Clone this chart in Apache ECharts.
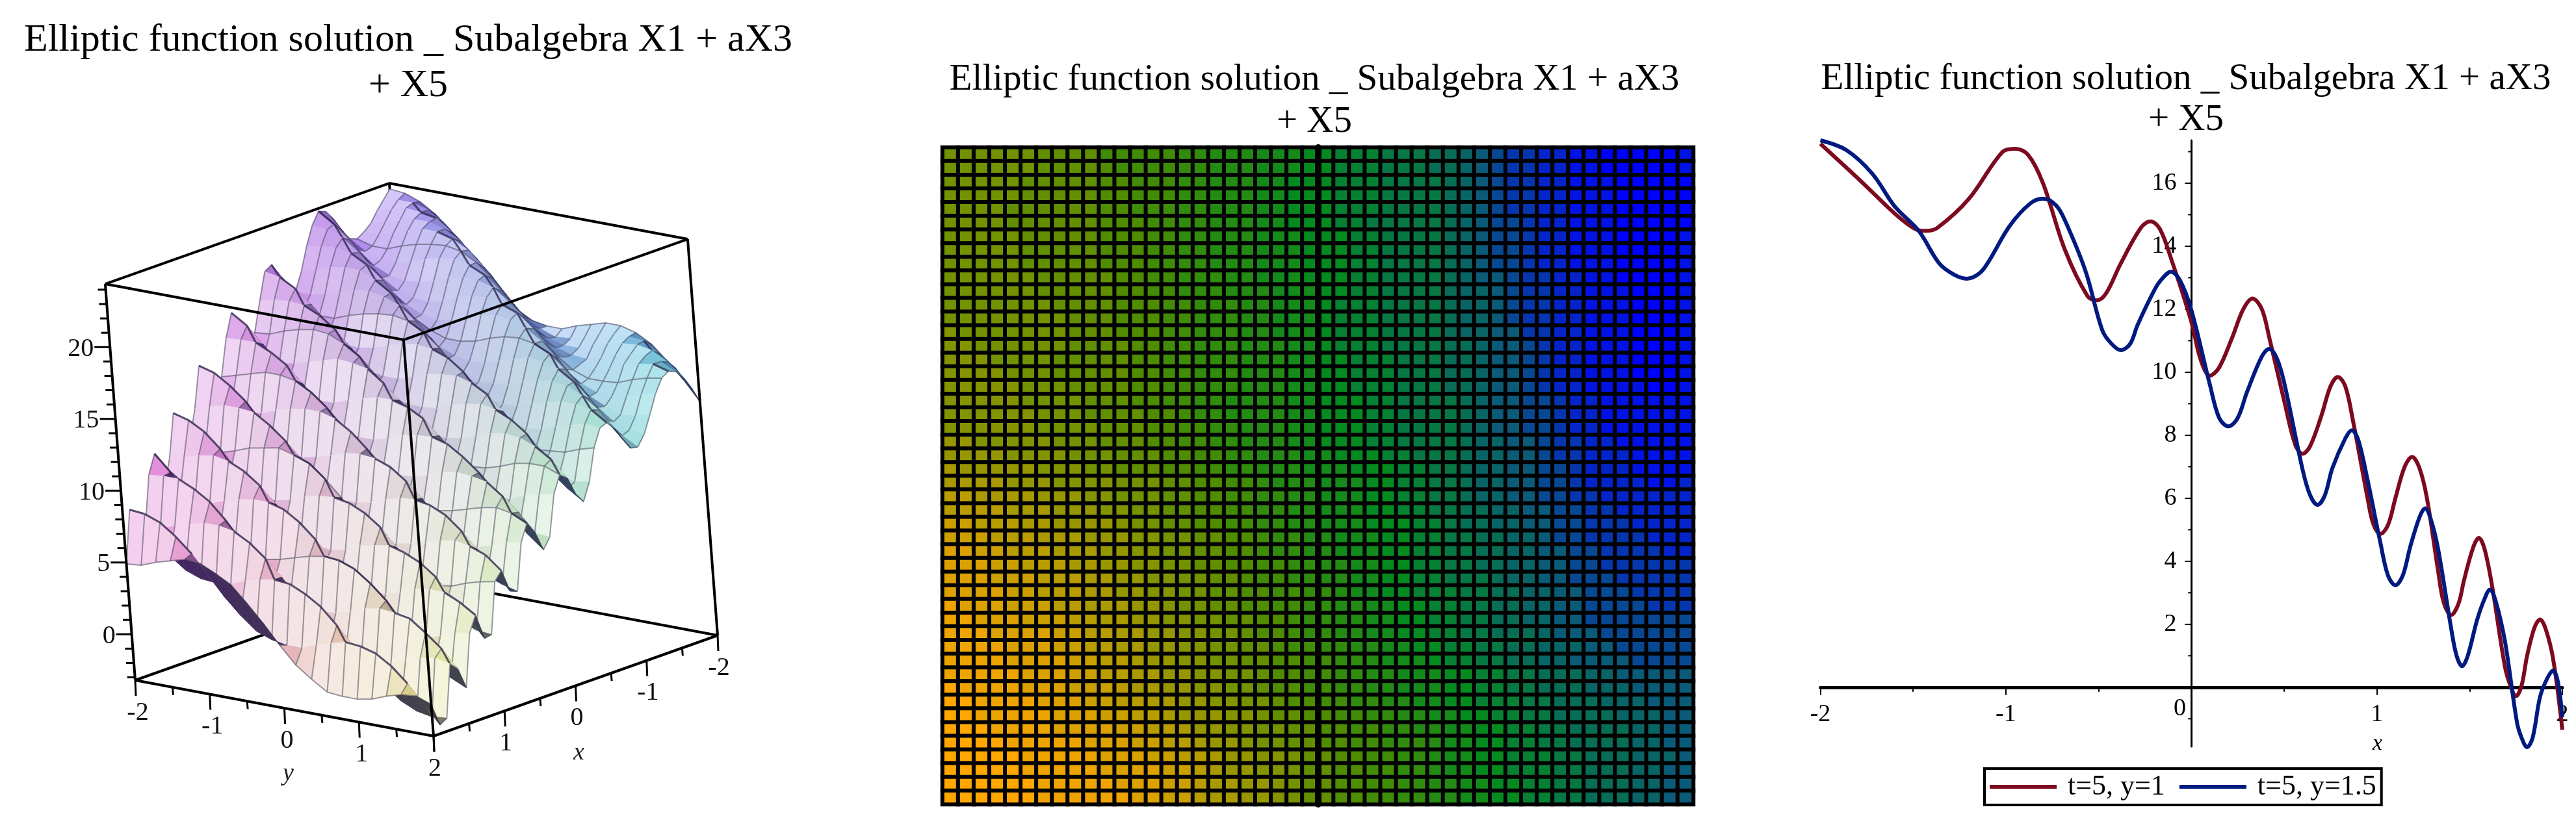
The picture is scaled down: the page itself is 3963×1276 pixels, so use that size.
<!DOCTYPE html>
<html>
<head>
<meta charset="utf-8">
<title>Elliptic function solution</title>
<script src="https://cdn.jsdelivr.net/npm/echarts@6/dist/echarts.min.js"></script>
<style>
html, body { margin: 0; background: #fff; }
#main { width: 3963px; height: 1276px; }
</style>
</head>
<body>
<div id="main"></div>
<script>
const titleText = "Elliptic function solution _ Subalgebra X1 + aX3\n+ X5";

// left panel: surface heights, one row per y, one column per x
const surfaceX = [-2,-1.9,-1.8,-1.7,-1.6,-1.5,-1.4,-1.3,-1.2,-1.1,-1,-0.9,-0.8,-0.7,-0.6,-0.5,-0.4,-0.3,-0.2,-0.1,0,0.1,0.2,0.3,0.4,0.5,0.6,0.7,0.8,0.9,1,1.1,1.2,1.3,1.4,1.5,1.6,1.7,1.8,1.9,2];
const surfaceY = [-2,-1.8,-1.6,-1.4,-1.2,-1,-0.8,-0.6,-0.4,-0.2,0,0.2,0.4,0.6,0.8,1,1.2,1.4,1.6,1.8,2];
const surfaceZ = [
  [24.0,23.4,22.8,22.1,21.7,21.4,21.6,22.3,23.3,24.0,24.2,23.4,22.1,20.5,19.3,19.1,20.4,21.7,21.4,19.5,17.5,16.7,18.3,19.4,17.8,15.3,14.1,16.1,16.6,13.8,11.7,13.4,14.0,11.0,9.2,11.7,10.4,7.0,7.8,8.5,4.9],
  [23.9,23.6,23.1,22.4,21.7,21.1,20.9,21.2,22.0,22.9,23.5,23.3,22.3,20.8,19.3,18.5,19.1,20.6,21.2,19.8,17.6,16.2,16.9,18.7,17.9,15.6,13.6,14.8,16.3,14.1,11.4,12.2,13.7,11.3,8.7,10.6,10.5,7.0,6.5,8.4,5.0],
  [23.5,23.6,23.4,22.7,22.0,21.1,20.5,20.3,20.8,21.6,22.6,22.9,22.4,21.2,19.5,18.2,18.0,19.5,20.6,19.9,18.0,15.9,15.8,17.6,17.9,15.9,13.4,13.6,15.6,14.4,11.3,10.9,13.1,11.6,8.5,9.3,10.5,7.4,5.5,8.0,5.4],
  [22.8,23.3,23.3,23.0,22.4,21.5,20.5,19.8,19.8,20.4,21.4,22.1,22.2,21.4,19.8,18.2,17.3,18.1,19.7,19.8,18.3,16.1,14.9,16.5,17.4,16.2,13.5,12.5,14.7,14.4,11.6,10.0,12.1,11.8,8.6,8.1,10.0,7.7,4.7,7.2,5.7],
  [21.8,22.6,23.1,23.0,22.7,21.8,20.7,19.6,19.1,19.3,20.2,21.1,21.6,21.4,20.2,18.6,16.8,17.0,18.6,19.3,18.5,16.4,14.4,15.1,16.7,16.2,13.9,11.8,13.5,14.3,12.0,9.3,11.0,11.6,9.0,7.0,9.3,8.0,4.3,6.2,6.0],
  [20.6,21.6,22.3,22.7,22.7,22.0,21.1,19.7,18.8,18.5,18.9,19.8,20.7,20.9,20.3,18.9,16.7,16.1,17.3,18.5,18.4,16.7,14.1,14.0,15.6,16.0,14.2,11.3,12.2,13.6,12.2,8.9,9.7,11.1,9.3,6.3,8.2,8.0,4.2,4.9,5.9],
  [19.2,20.4,21.3,22.1,22.4,22.1,21.4,20.0,18.7,18.0,17.9,18.5,19.5,20.2,20.1,19.1,16.9,15.5,16.0,17.4,17.9,17.0,14.1,13.1,14.3,15.4,14.4,11.2,11.0,12.7,12.4,8.9,8.4,10.3,9.5,5.8,6.9,7.8,4.3,3.6,5.4],
  [18.1,19.2,20.2,21.1,21.8,21.9,21.5,20.4,19.0,17.8,17.3,17.5,18.3,19.2,19.7,19.2,17.2,15.3,15.0,16.1,17.2,16.9,14.5,12.5,13.1,14.5,14.4,11.4,10.0,11.6,12.1,9.1,7.5,9.2,9.5,5.7,5.7,7.2,4.7,2.5,4.8],
  [17.2,17.9,18.9,20.0,20.8,21.3,21.3,20.6,19.4,18.0,16.9,16.5,17.0,18.0,18.8,19.0,17.6,15.3,14.3,14.9,16.1,16.7,14.8,12.3,12.0,13.4,14.1,11.7,9.4,10.3,11.7,9.6,6.8,8.0,9.2,5.9,4.6,6.3,5.0,1.6,3.7],
  [16.6,17.0,17.7,18.7,19.6,20.4,20.8,20.6,19.7,18.3,16.9,16.1,16.0,16.7,17.8,18.4,17.7,15.6,13.9,13.8,14.9,15.9,15.1,12.3,11.1,12.1,13.4,12.1,9.0,9.1,10.8,9.8,6.5,6.7,8.5,6.2,3.7,5.2,5.2,1.2,2.5],
  [16.4,16.4,16.7,17.5,18.4,19.2,19.9,20.3,19.8,18.7,17.1,15.9,15.3,15.5,16.5,17.5,17.6,16.0,13.9,13.0,13.6,14.9,15.1,12.6,10.6,10.9,12.4,12.2,9.0,8.0,9.7,9.9,6.4,5.6,7.5,6.5,3.2,3.9,5.1,1.0,1.2],
  [16.4,16.0,16.1,16.5,17.1,18.0,18.8,19.5,19.5,18.9,17.5,15.9,14.8,14.6,15.2,16.3,17.2,16.2,14.0,12.5,12.5,13.8,14.8,13.0,10.4,9.8,11.2,12.1,9.2,7.3,8.4,9.7,6.6,4.8,6.3,6.7,3.0,2.6,4.6,1.0,0.0],
  [16.8,16.1,15.8,15.8,16.2,16.7,17.5,18.6,19.1,18.8,17.8,16.3,14.9,14.1,14.2,15.1,16.4,16.3,14.4,12.3,11.6,12.5,14.2,13.2,10.5,9.1,10.0,11.7,9.6,6.9,7.1,9.2,7.1,4.3,5.1,6.6,3.1,1.7,3.9,1.4,-0.8],
  [17.1,16.4,15.8,15.5,15.5,15.8,16.3,17.4,18.2,18.4,17.9,16.6,15.0,13.8,13.3,13.8,15.4,16.0,14.7,12.5,11.1,11.3,13.2,13.3,10.8,8.7,8.7,10.9,9.9,6.9,6.1,8.4,7.3,4.2,3.8,6.2,3.4,0.9,2.8,1.7,-1.5],
  [17.4,16.8,16.2,15.4,15.2,15.0,15.2,16.2,17.1,17.7,17.7,16.9,15.4,13.9,12.9,12.9,14.1,15.4,14.9,12.8,10.9,10.3,12.1,13.0,11.2,8.7,7.8,9.9,10.0,7.1,5.3,7.2,7.5,4.3,2.9,5.4,3.8,0.5,1.6,2.0,-1.6],
  [17.4,17.0,16.5,15.7,15.1,14.6,14.4,14.8,15.8,16.7,17.2,16.8,15.7,14.2,12.7,12.1,12.9,14.4,14.7,13.2,11.0,9.7,10.8,12.3,11.4,8.9,7.2,8.6,9.8,7.4,4.9,5.9,7.2,4.6,2.3,4.4,4.0,0.5,0.3,1.9,-1.6],
  [17.1,17.0,16.7,16.1,15.3,14.6,14.0,13.9,14.5,15.5,16.3,16.5,15.8,14.5,12.8,11.6,11.8,13.2,14.2,13.4,11.3,9.4,9.5,11.4,11.3,9.2,6.8,7.3,9.3,7.7,4.8,4.7,6.7,5.0,1.9,3.1,3.9,0.6,-0.9,1.6,-1.4],
  [16.5,16.9,16.8,16.3,15.8,14.7,13.9,13.4,13.5,14.1,15.2,15.8,15.7,14.8,13.2,11.7,10.8,12.0,13.4,13.3,11.7,9.4,8.6,10.2,11.1,9.5,6.9,6.3,8.4,7.9,4.9,3.6,5.9,5.2,2.0,1.8,3.7,1.0,-1.7,0.9,-1.0],
  [15.5,16.2,16.6,16.4,16.0,15.1,14.1,13.0,12.7,13.0,13.9,14.8,15.2,14.8,13.5,11.8,10.4,10.7,12.3,12.9,11.9,9.8,7.9,9.0,10.3,9.7,7.2,5.3,7.3,7.7,5.3,2.9,4.7,5.2,2.3,0.8,2.9,1.3,-2.2,-0.1,-0.7],
  [14.4,15.4,16.0,16.2,16.2,15.4,14.4,13.1,12.3,12.1,12.7,13.6,14.4,14.6,13.8,12.2,10.1,9.8,11.1,12.2,11.9,10.1,7.6,7.7,9.4,9.5,7.6,4.9,6.0,7.3,5.6,2.4,3.5,4.7,2.7,-0.2,2.0,1.5,-2.4,-1.3,-0.6],
  [13.1,14.2,15.1,15.7,15.9,15.6,14.7,13.4,12.2,11.5,11.6,12.4,13.3,13.9,13.7,12.5,10.3,9.1,9.8,11.1,11.5,10.3,7.5,6.8,8.2,9.0,7.8,4.6,4.8,6.4,5.8,2.3,2.2,4.0,2.9,-0.7,0.8,1.3,-2.3,-2.6,-1.0]
];
const xyTicks = [-2,-1.5,-1,-0.5,0,0.5,1,1.5,2];
const zTicks = [-3,-2,-1,0,1,2,3,4,5,6,7,8,9,10,11,12,13,14,15,16,17,18,19,20,21,22,23,24];

// middle panel: colour level of each cell, a=0 ... z=25, top row first
const heatRows = [
  "iiiiiijjjj lllllmmnnn oooppqqqrr rsstuv wwxxyy zzzzzy",
  "iiiiiijjjj kllllmmnnn oooppqqqrr rsstuv wwxxyy zzzzzy",
  "iiiiijjjjj kklllmmnnn oopppqqqrr rrstuv wwxxyy yzzzzz",
  "iiiiijjjjj kklllmmnnn oopppqqqrr rrstuv wwxxyy yzzzzz",
  "iiiijjjjjj kklllmmnnn oopppqqqrr rrstuv wwxxyy yzzzzz",
  "iiiijjjjjj kkkllmmnnn oopppqqrrr rrstuv vwxxyy yzzzzz",
  "iiiiijjjjj kkkllmmnnn ooopppqqrr rrstuv vwxxyy yzzzzy",
  "iiiiijjjjj kkkllmmnnn ooopppqqrr rrstuv vwxxyy yzzzzy",
  "iiiiijjjjj kkkllmmnnn ooopppqqrr rrstuv vwxxyy yzzzzy",
  "iiiiiijjjj jkkllmmmnn ooopppqqrr rrstuu vwwxxy yzzzzy",
  "iiiiiijjjj jkkllmmmnn noooppqqrr rrsttu vwwxxy yyzzzy",
  "iiiiiiijjj jkkkllmmmn nooopqqqrr rrsttu vwwxxy yyzzzy",
  "iiiiiiiijj jkkkllmmmn nooopqqqrr rrsttu vwwxxy yyzzzy",
  "hiiiiiiijj jkkkllmmmn nooopqqqrr rrsttu uwwxxy yyzzzy",
  "hhiiiiiijj jjkkllmmmn nnoopqqqrr rrsstu uvwxxy yyzzzy",
  "hhhiiiijjj jjkkllmmmn nnooppqqqr rrsstu uvwxxy yyzzzy",
  "hhhhiiijjj jjkkllmmmn nnooppqqqr rrsstu uvwxxy yyzzzy",
  "hhhhhiiijj jjkkllmmmn nnooppqqqr rrsstu uvwxxy yyyzzy",
  "hhhhhiiiij jjkkllmmnn nnoopppqqr rrrstu uvvwxx yyyyyy",
  "hhhhhhiiij jjjkklmmnn nnoopppqqr rrrstu uvvwxx yyyyyy",
  "hhhhhhiiii jjjkkllmmn nnoopppqqr rrrstu uvvwxx yyyyyy",
  "gghhhhhiii jjjkkllmmn nnoopppqqr rrrstt uuvwwx xyyyyy",
  "gggghhhhii ijjjkkllmm nnnoopppqq rrrstt uuvwwx xxyyyy",
  "fggggghhhi ijjjkkllmm nnnooopppq qrrstt uuvvwx xxyyyy",
  "ffffggghhh hiiijjkkll mnnnoooppq qrrstt uuvvwx xxxyyx",
  "eeffffgggh hiiijjkkll mmnnoooppq qrrstt uuvvww xxxxxx",
  "eeeefffggg hhiijjkkll mmnnoooppq qrrsst tuuvvw wxxxxx",
  "ddeeeffggg ghiijjkkll mmnnoooppp qqrsst tuuvvw wwxxxx",
  "dddeeefffg gghhiijjkk lmmnnooopp qqrrss ttuvvw wwwxxx",
  "ccddeeefff gghhiijjkk lmmnnooopp qqrrss ttuuvv wwwwxx",
  "cccddeeeff gghhiijjkk llmmnnoopp qqrrss ttuuvv wwwwww",
  "cccdddeeef fgghhiijjk llmmnnoopp qqrrrs ttuuvv vwwwww",
  "ccccddeeef fgghhiijjk kllmmnoopp qqqrrs sttuuv vvwwww",
  "bcccdddeef ffgghiijjk kllmmnnoop pqqrrs sttuuv vvvwww",
  "bbcccdddee ffgghhiijj kklmmnnoop pqqrrs sttuuv vvvvvv",
  "bbbccccdde effgghhiij kklmmnnoop pqqrrs sstuuu vvvvvv",
  "bbbbcccdde effgghhiij jkllmmnnoo ppqqrr sstttu uvvvvv",
  "bbbbccccdd eefgghhiij jkkllmmnoo opqqrr ssttuu uuvvvv",
  "bbbbbcccdd eeffgghhii jkkllmmnno ooppqq rrssst tuuuuu",
  "abbbbcccdd deffgghhii jkkllmmnno ooppqq rrssst ttuuuu",
  "aabbbbcccd deeffgghhi ijkkllmmnn ooppqq qrrsss tttuuu",
  "aabbbbbccc ddeefggghh ijjkkllmmn nooppq qrrsss stttuu",
  "aaabbbbccc cddeefgghh iijjkkllmm nnoopp qqrrss ssttuu",
  "aaaabbbbbc ccddeefggh iijjkkllmm mnoopp qqrrss ssttuu",
  "aaaaabbbbb cccddeefgg hhijjkkllm mnoopp qqqrrs sstttu",
  "aaaaabbbbb ccccddefgg hhijjkkllm mnoopp qqqrrs ssttuu",
  "aaaaaabbbb bcccddeffg ghijjkkllm mnnoop pqqrrs ssttuu",
  "aaaaaabbbb bbccddeffg ghijjkkllm mnnoop pqqrrs ssttuu"
];
const heatColors = ["#ffa600", "#a89a00", "#4f8c00", "#058a20", "#0a5a78", "#0000ff"];

// right panel: the two curves
const redX = [-2,-1.77,-1.6,-1.49,-1.43,-1.37,-1.2,-1.02,-0.95,-0.88,-0.8,-0.68,-0.56,-0.51,-0.46,-0.38,-0.27,-0.22,-0.17,-0.11,0,0.05,0.1,0.15,0.22,0.28,0.33,0.38,0.42,0.5,0.56,0.6,0.64,0.7,0.75,0.79,0.83,0.87,0.95,0.98,1.02,1.06,1.1,1.15,1.19,1.23,1.27,1.33,1.36,1.4,1.44,1.47,1.52,1.55,1.58,1.62,1.69,1.72,1.75,1.78,1.81,1.85,1.88,1.91,1.95,2];
const redY = [17.25,16,15.04,14.55,14.49,14.58,15.5,16.98,17.09,16.9,16,13.86,12.42,12.28,12.5,13.46,14.6,14.79,14.55,13.62,11.6,10.4,9.89,10.15,11.1,12,12.34,12,11.1,9.1,7.7,7.41,7.65,8.6,9.55,9.85,9.55,8.5,6,5.2,4.87,5.15,6,7,7.31,6.95,6,3.7,2.7,2.29,2.65,3.4,4.45,4.74,4.4,3.26,0.67,0.05,-0.28,0.05,1,1.9,2.15,1.85,0.91,-1.35];
const blueX = [-2,-1.86,-1.72,-1.6,-1.47,-1.36,-1.28,-1.21,-1.14,-1.09,-0.98,-0.87,-0.8,-0.73,-0.68,-0.57,-0.48,-0.43,-0.38,-0.33,-0.29,-0.2,-0.16,-0.11,-0.06,0,0.1,0.15,0.2,0.25,0.3,0.38,0.42,0.46,0.5,0.6,0.64,0.68,0.72,0.76,0.83,0.865,0.9,0.95,1.02,1.06,1.1,1.14,1.18,1.23,1.26,1.29,1.33,1.4,1.43,1.46,1.49,1.54,1.58,1.61,1.64,1.69,1.755,1.78,1.81,1.84,1.88,1.92,1.95,1.975,2];
const blueY = [17.36,17.05,16.3,15.27,14.49,13.46,13.1,12.97,13.15,13.54,14.64,15.35,15.51,15.3,14.8,13.2,11.33,10.9,10.7,10.9,11.5,12.6,12.95,13.19,12.9,11.97,9.6,8.55,8.28,8.55,9.37,10.5,10.74,10.45,9.68,6.9,6.1,5.79,6.1,6.95,7.9,8.16,7.85,6.58,4.56,3.55,3.24,3.55,4.46,5.4,5.68,5.35,4.4,1.89,1,0.67,1,2.13,2.8,3.1,2.75,1.48,-1.1,-1.6,-1.9,-1.6,-0.3,0.3,0.53,0.2,-0.95];
const redName = "t=5, y=1";
const blueName = "t=5, y=1.5";
const yMajorTicks = [0,2,4,6,8,10,12,14,16];
const yMinorTicks = [-1,1,3,5,7,9,11,13,15,17];
const yLabelValues = [2,4,6,8,10,12,14,16];
const xLabelValues = [-2,-1,1,2];

const SERIF = "Liberation Serif";
const Z_MIN = -3.2, Z_MAX = 24.4;

// box view: orthographic, the nearest bottom corner is x=2, y=2
function project(x, y, z) {
    return [
        667 + (2 - x) * 109.25 - (2 - y) * 114.75 - (z - Z_MIN) * 1.67,
        1133 - (2 - x) * 38.75 - (2 - y) * 21.5 - (z - Z_MIN) * 22.1
    ];
}

function mix(a, b, t) {
    return [a[0] + (b[0] - a[0]) * t, a[1] + (b[1] - a[1]) * t, a[2] + (b[2] - a[2]) * t];
}

function quadArea(a, b, c, d) {
    return (c[0] - a[0]) * (d[1] - b[1]) - (c[1] - a[1]) * (d[0] - b[0]);
}

// pink/yellow at the front, lavender/cyan at the back. Faces seen at a grazing
// angle go dark, faces turned to the viewer go pale.
function quadColor(i, j) {
    const x0 = surfaceX[i], x1 = surfaceX[i + 1], y0 = surfaceY[j], y1 = surfaceY[j + 1];
    const s = (x0 + 2) / 4, t = (y0 + 2) / 4;
    const back = mix([176, 150, 244], [120, 218, 236], t);
    const front = mix([226, 110, 206], [232, 232, 140], t);
    const base = mix(back, front, s);
    const area = quadArea(
        project(x0, y0, surfaceZ[j][i]), project(x1, y0, surfaceZ[j][i + 1]),
        project(x1, y1, surfaceZ[j + 1][i + 1]), project(x0, y1, surfaceZ[j + 1][i]));
    const flat = quadArea(project(x0, y0, 0), project(x1, y0, 0), project(x1, y1, 0), project(x0, y1, 0));
    const r = area / flat;
    const dark = [base[0] * 0.3, base[1] * 0.3, base[2] * 0.5];
    let c;
    if (r < 1) {
        c = mix(base, dark, Math.min(1, 0.45 + (1 - r) * 0.55));
    } else if (r < 2) {
        c = mix(base, dark, (2 - r) * 0.45);
    } else {
        let w = 0.12 + 0.55 * Math.min(1, Math.max(0, (r - 3.5) / 6));
        if (x0 < -1) w += (-1 - x0) * 0.35;
        c = mix(base, [255, 255, 255], Math.min(0.85, w));
    }
    return "rgb(" + c.map(Math.round).join(",") + ")";
}

const quadData = [];
for (let i = 0; i < surfaceX.length - 1; i++) {
    for (let j = 0; j < surfaceY.length - 1; j++) {
        quadData.push([i, j]);
    }
}

function isCrest(i, j) {
    const row = surfaceZ[j];
    return i > 0 && i < row.length - 1 && row[i] >= row[i - 1] && row[i] > row[i + 1];
}

function renderQuad(params, api) {
    const i = api.value(0), j = api.value(1);
    const pt = (a, b) => api.coord(project(surfaceX[a], surfaceY[b], surfaceZ[b][a]));
    const p00 = pt(i, j), p10 = pt(i + 1, j), p11 = pt(i + 1, j + 1), p01 = pt(i, j + 1);
    const fill = quadColor(i, j);
    const meshStyle = { stroke: "rgba(60,60,80,0.5)", lineWidth: 2 };
    const children = [{
        type: "polygon",
        shape: { points: [p00, p10, p11, p01] },
        style: { fill: fill, stroke: fill, lineWidth: 1 }
    }];
    const seg = (a, b, style) => children.push({
        type: "line",
        shape: { x1: a[0], y1: a[1], x2: b[0], y2: b[1] },
        style: style || meshStyle
    });
    seg(p00, p10);
    if (j === surfaceY.length - 2) seg(p01, p11);
    if (i % 5 === 0) seg(p00, p01);
    if (i === surfaceX.length - 2) seg(p10, p11);
    // ridge line, joined to the same ridge on the next row
    if (isCrest(i, j)) {
        const crestStyle = { stroke: "rgba(40,30,70,0.75)", lineWidth: 3 };
        [0, 1, -1].some(k => {
            if (isCrest(i + k, j + 1)) {
                seg(p00, pt(i + k, j + 1), crestStyle);
                return true;
            }
            return false;
        });
    }
    return { type: "group", children: children };
}

// box edges as pairs of corners
const lo = -2, hi = 2;
const backEdges = [
    [[hi, lo, Z_MIN], [lo, lo, Z_MIN]], [[lo, lo, Z_MIN], [lo, hi, Z_MIN]], [[lo, lo, Z_MIN], [lo, lo, Z_MAX]],
    [[hi, lo, Z_MAX], [lo, lo, Z_MAX]], [[lo, lo, Z_MAX], [lo, hi, Z_MAX]]
];
const frontEdges = [
    [[hi, lo, Z_MIN], [hi, hi, Z_MIN]], [[hi, hi, Z_MIN], [lo, hi, Z_MIN]],
    [[hi, lo, Z_MIN], [hi, lo, Z_MAX]], [[hi, hi, Z_MIN], [hi, hi, Z_MAX]], [[lo, hi, Z_MIN], [lo, hi, Z_MAX]],
    [[hi, lo, Z_MAX], [hi, hi, Z_MAX]], [[hi, hi, Z_MAX], [lo, hi, Z_MAX]]
];

function edgeSeries(edges) {
    return {
        type: "custom",
        xAxisIndex: 0,
        yAxisIndex: 0,
        silent: true,
        clip: false,
        data: edges.map((e, k) => [k]),
        renderItem: function (params, api) {
            const e = edges[api.value(0)];
            const a = api.coord(project(e[0][0], e[0][1], e[0][2]));
            const b = api.coord(project(e[1][0], e[1][1], e[1][2]));
            return {
                type: "line",
                shape: { x1: a[0], y1: a[1], x2: b[0], y2: b[1] },
                style: { stroke: "#000", lineWidth: 4 }
            };
        }
    };
}

// ticks and tick labels of the box
const boxTicks = [];
xyTicks.forEach(v => {
    const major = Number.isInteger(v);
    boxTicks.push({ at: [hi, v, Z_MIN], dx: 1, dy: major ? 24 : 12, label: major && v !== 2 ? String(v) : "", lx: 4, ly: 50 });
    boxTicks.push({ at: [v, hi, Z_MIN], dx: 1, dy: major ? 24 : 12, label: major ? String(v) : "", lx: 2, ly: 50 });
});
zTicks.forEach(v => {
    const major = v % 5 === 0;
    boxTicks.push({ at: [hi, lo, v], dx: major ? -24 : -12, dy: 0, label: major ? String(v) : "", lx: -25, ly: 3, right: true });
});

const axes3d = {
    type: "custom",
    xAxisIndex: 0,
    yAxisIndex: 0,
    silent: true,
    clip: false,
    data: boxTicks.map((t, k) => [k]),
    renderItem: function (params, api) {
        const t = boxTicks[api.value(0)];
        const p = api.coord(project(t.at[0], t.at[1], t.at[2]));
        const children = [{
            type: "line",
            shape: { x1: p[0], y1: p[1], x2: p[0] + t.dx, y2: p[1] + t.dy },
            style: { stroke: "#000", lineWidth: 3 }
        }];
        if (t.label) {
            children.push({
                type: "text",
                style: {
                    text: t.label,
                    x: p[0] + t.lx,
                    y: p[1] + t.ly,
                    fill: "#111",
                    font: "40px '" + SERIF + "'",
                    align: t.right ? "right" : "center",
                    verticalAlign: "middle"
                }
            });
        }
        return { type: "group", children: children };
    }
};

// heatmap cells from the letter table
const heatClean = heatRows.map(r => r.replace(/ /g, ""));
const heatCols = [], heatCats = [], heatData = [];
for (let c = 0; c < 48; c++) heatCols.push(c);
heatClean.forEach((row, r) => {
    heatCats.push(r);
    for (let c = 0; c < row.length; c++) {
        heatData.push([c, r, row.charCodeAt(c) - 97]);
    }
});

function zipXY(xs, ys) {
    return xs.map((x, i) => [x, ys[i]]);
}

const chart = echarts.init(document.getElementById("main"), null, { renderer: "canvas" });
const titleStyle = { fontFamily: SERIF, fontWeight: "normal", color: "#000", fontSize: 60 };

chart.setOption({
    backgroundColor: "#fff",
    animation: false,
    title: [
        { text: titleText, left: 623, top: 22, textAlign: "center", textStyle: Object.assign({}, titleStyle, { lineHeight: 70 }) },
        { text: titleText, left: 2017, top: 86, textAlign: "center", textStyle: Object.assign({}, titleStyle, { fontSize: 57, lineHeight: 65 }) },
        { text: titleText, left: 3358, top: 86, textAlign: "center", textStyle: Object.assign({}, titleStyle, { fontSize: 57, lineHeight: 63 }) }
    ],
    grid: [
        { left: 0, top: 0, width: 1300, height: 1276 },
        { left: 1450, top: 227, width: 1155, height: 1011, show: true, backgroundColor: "#000", borderColor: "#000", borderWidth: 6 },
        { left: 1450, top: 227, width: 1155, height: 1011 },
        { left: 2800.5, top: 216, width: 1141.5, height: 933 }
    ],
    xAxis: [
        { gridIndex: 0, type: "value", min: 0, max: 1300, show: false },
        { gridIndex: 1, type: "category", data: heatCols, show: false },
        { gridIndex: 2, type: "value", min: -2, max: 2, show: false },
        {
            gridIndex: 3, type: "value", min: -2, max: 2, interval: 1,
            splitLine: { show: false },
            axisLine: { onZero: true, lineStyle: { color: "#000", width: 5 } },
            axisTick: { length: 12, lineStyle: { color: "#000", width: 2 } },
            minorTick: { show: true, splitNumber: 2, length: 7, lineStyle: { color: "#000", width: 2 } },
            // labels stay at the grid edge, so they are pulled back up to the axis
            axisLabel: { customValues: xLabelValues, color: "#000", fontFamily: SERIF, fontSize: 38, margin: -68 }
        }
    ],
    yAxis: [
        { gridIndex: 0, type: "value", min: 0, max: 1276, inverse: true, show: false },
        { gridIndex: 1, type: "category", data: heatCats, inverse: true, show: false },
        {
            gridIndex: 2, type: "value", min: -2, max: 2, z: 5,
            splitLine: { show: false },
            axisLine: { onZero: true, lineStyle: { color: "#000", width: 10 } },
            axisTick: { show: false },
            axisLabel: { show: false }
        },
        {
            gridIndex: 3, type: "value", min: -1.88, max: 17.36,
            splitLine: { show: false },
            axisLine: { onZero: true, lineStyle: { color: "#000", width: 3 } },
            axisTick: { customValues: yMajorTicks, length: 10, lineStyle: { color: "#000", width: 2 } },
            axisLabel: { customValues: yLabelValues, color: "#000", fontFamily: SERIF, fontSize: 38, margin: -548 }
        }
    ],
    visualMap: {
        show: false,
        seriesIndex: 4,
        dimension: 2,
        min: 0,
        max: 25,
        inRange: { color: heatColors }
    },
    legend: {
        left: 3053,
        top: 1183,
        data: [
            { name: redName, icon: "rect" },
            { name: blueName, icon: "rect" }
        ],
        orient: "horizontal",
        itemWidth: 103,
        itemHeight: 6,
        itemGap: 22,
        padding: [4, 8, 4, 8],
        borderColor: "#000",
        borderWidth: 4,
        selectedMode: false,
        textStyle: { color: "#000", fontFamily: SERIF, fontSize: 44, lineHeight: 48, padding: [0, 0, 0, 12] }
    },
    graphic: [
        { type: "text", left: 3344, top: 1072, style: { text: "0", fill: "#000", font: "38px '" + SERIF + "'" } },
        { type: "text", left: 3650, top: 1128, style: { text: "x", fill: "#000", font: "italic 34px '" + SERIF + "'" } },
        { type: "text", left: 882, top: 1140, style: { text: "x", fill: "#222", font: "italic 38px '" + SERIF + "'" } },
        { type: "text", left: 435, top: 1172, style: { text: "y", fill: "#222", font: "italic 38px '" + SERIF + "'" } }
    ],
    series: [
        edgeSeries(backEdges),
        {
            type: "custom",
            xAxisIndex: 0,
            yAxisIndex: 0,
            silent: true,
            clip: false,
            progressive: 0,
            data: quadData,
            renderItem: renderQuad
        },
        edgeSeries(frontEdges),
        axes3d,
        {
            type: "heatmap",
            xAxisIndex: 1,
            yAxisIndex: 1,
            silent: true,
            progressive: 0,
            data: heatData,
            itemStyle: { borderColor: "#000", borderWidth: 6 }
        },
        {
            name: redName, type: "line", xAxisIndex: 3, yAxisIndex: 3,
            data: zipXY(redX, redY), showSymbol: false, symbol: "none", smooth: 0.35, clip: false,
            lineStyle: { color: "#7d0a1e", width: 6 }, itemStyle: { color: "#7d0a1e" }
        },
        {
            name: blueName, type: "line", xAxisIndex: 3, yAxisIndex: 3,
            data: zipXY(blueX, blueY), showSymbol: false, symbol: "none", smooth: 0.35, clip: false,
            lineStyle: { color: "#001a80", width: 6 }, itemStyle: { color: "#001a80" }
        },
        // odd y ticks are half length
        {
            type: "custom", xAxisIndex: 3, yAxisIndex: 3, silent: true, clip: false,
            data: yMinorTicks.map(v => [0, v]),
            renderItem: function (params, api) {
                const p = api.coord([api.value(0), api.value(1)]);
                return {
                    type: "line",
                    shape: { x1: p[0] - 5, y1: p[1], x2: p[0], y2: p[1] },
                    style: { stroke: "#000", lineWidth: 2 }
                };
            }
        }
    ]
});
</script>
</body>
</html>
